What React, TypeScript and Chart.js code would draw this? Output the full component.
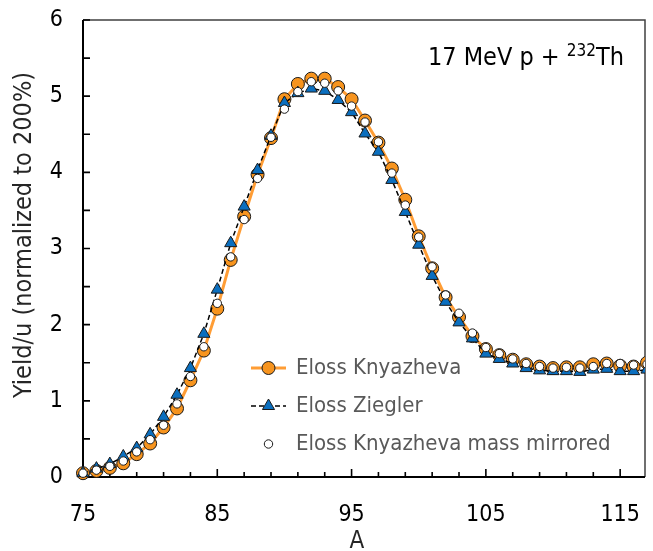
import React, { useEffect, useRef } from 'react';
import { Chart, registerables } from 'chart.js';

Chart.register(...registerables);

// ---------- data ----------
const massNumbers = [
  75, 76, 77, 78, 79, 80, 81, 82, 83, 84, 85, 86, 87, 88, 89, 90, 91, 92, 93, 94, 95, 96,
  97, 98, 99, 100, 101, 102, 103, 104, 105, 106, 107, 108, 109, 110, 111, 112, 113, 114, 115, 116, 117,
];
const knyazheva = [
  0.05, 0.08, 0.12, 0.18, 0.30, 0.44, 0.65, 0.90, 1.27, 1.66, 2.21, 2.85, 3.42, 3.97, 4.45, 4.96, 5.16, 5.23, 5.23, 5.12, 4.96, 4.68,
  4.39, 4.05, 3.64, 3.16, 2.74, 2.36, 2.10, 1.85, 1.68, 1.60, 1.54, 1.48, 1.45, 1.43, 1.44, 1.44, 1.48, 1.49, 1.46, 1.45, 1.50,
];
const ziegler = [
  0.05, 0.11, 0.17, 0.27, 0.38, 0.56, 0.79, 1.08, 1.43, 1.88, 2.46, 3.07, 3.55, 4.03, 4.48, 4.91, 5.04, 5.10, 5.07, 4.95, 4.79, 4.51,
  4.27, 3.90, 3.48, 3.05, 2.64, 2.30, 2.03, 1.82, 1.62, 1.55, 1.49, 1.43, 1.40, 1.39, 1.39, 1.38, 1.41, 1.42, 1.39, 1.39, 1.41,
];
const mirrored = [
  0.05, 0.09, 0.14, 0.21, 0.33, 0.49, 0.68, 0.96, 1.32, 1.71, 2.28, 2.89, 3.38, 3.92, 4.46, 4.83, 5.06, 5.19, 5.17, 5.07, 4.87, 4.66,
  4.40, 3.99, 3.57, 3.15, 2.76, 2.39, 2.15, 1.89, 1.70, 1.62, 1.55, 1.49, 1.45, 1.43, 1.44, 1.43, 1.45, 1.49, 1.49, 1.47, 1.48,
];
const seriesLabels = ['Eloss Knyazheva', 'Eloss Ziegler', 'Eloss Knyazheva mass mirrored'];
const xMajorTicks = [75, 85, 95, 105, 115];
const yTickLabels = [0, 1, 2, 3, 4, 5, 6];
const X_MIN = 75;
const X_MAX = 116.85;
const X_MINOR_STEP = 2;
const Y_MINOR_STEP = 0.5;
const xTitle = 'A';
const yTitle = 'Yield/u (normalized to 200%)';
const annotationMain = '17 MeV p + ';
const annotationSup = '232';
const annotationEnd = 'Th';

// ---------- styles ----------
const FONT = "'DejaVu Sans Condensed', 'Liberation Sans', sans-serif";
const ORANGE_LINE = '#FF9D35';
const ORANGE_FILL = '#F7941E';
const BLUE_FILL = '#0B6FBF';
const OUTLINE = '#1A1A1A';
const LEGEND_TEXT = '#595959';

const toPoints = (ys: number[]) => massNumbers.map((a, i) => ({ x: a, y: ys[i] }));

function drawMarker(ctx: CanvasRenderingContext2D, style: string, x: number, y: number, r: number, fill: string) {
  ctx.beginPath();
  if (style === 'triangle') {
    for (let k = 0; k < 3; k++) {
      const ang = (k * 2 * Math.PI) / 3;
      const px = x + Math.sin(ang) * r;
      const py = y - Math.cos(ang) * r;
      if (k === 0) ctx.moveTo(px, py);
      else ctx.lineTo(px, py);
    }
    ctx.closePath();
  } else {
    ctx.arc(x, y, r, 0, Math.PI * 2);
  }
  ctx.fillStyle = fill;
  ctx.fill();
  ctx.lineWidth = 1;
  ctx.strokeStyle = OUTLINE;
  ctx.stroke();
}

const decorPlugin = {
  id: 'decor',
  beforeDatasetsDraw(chart: any) {
    const { ctx, chartArea: a, scales } = chart;
    const x = scales.x;
    const y = scales.y;
    ctx.save();
    // top / right frame
    ctx.strokeStyle = '#404040';
    ctx.lineWidth = 1.5;
    ctx.beginPath();
    ctx.moveTo(a.left, a.top);
    ctx.lineTo(a.right, a.top);
    ctx.lineTo(a.right, a.bottom);
    ctx.stroke();
    // axes
    ctx.strokeStyle = '#000';
    ctx.lineWidth = 2;
    ctx.beginPath();
    ctx.moveTo(a.left, a.top);
    ctx.lineTo(a.left, a.bottom);
    ctx.lineTo(a.right, a.bottom);
    ctx.stroke();
    // inside tick marks
    ctx.lineWidth = 1.6;
    ctx.beginPath();
    y.ticks.forEach((t: any) => {
      const py = y.getPixelForValue(t.value);
      ctx.moveTo(a.left, py);
      ctx.lineTo(a.left + 7, py);
    });
    x.ticks.forEach((t: any) => {
      const px = x.getPixelForValue(t.value);
      const len = xMajorTicks.includes(t.value) ? 8 : 5;
      ctx.moveTo(px, a.bottom);
      ctx.lineTo(px, a.bottom - len);
    });
    ctx.stroke();
    ctx.restore();
  },
  afterDraw(chart: any) {
    const { ctx } = chart;
    ctx.save();
    // legend
    const rows = [368, 406, 444];
    chart.data.datasets.forEach((ds: any, i: number) => {
      const yy = rows[i];
      if (ds.showLine !== false) {
        ctx.save();
        ctx.strokeStyle = ds.borderColor;
        ctx.lineWidth = ds.borderWidth;
        ctx.setLineDash(ds.borderDash || []);
        ctx.beginPath();
        ctx.moveTo(251, yy);
        ctx.lineTo(286, yy);
        ctx.stroke();
        ctx.restore();
      }
      drawMarker(ctx, ds.pointStyle || 'circle', 268.5, yy, ds.pointRadius, ds.pointBackgroundColor);
      ctx.fillStyle = LEGEND_TEXT;
      ctx.font = `22px ${FONT}`;
      ctx.textAlign = 'left';
      ctx.textBaseline = 'middle';
      ctx.fillText(seriesLabels[i], 296, yy);
    });
    // annotation
    ctx.fillStyle = '#000';
    ctx.textBaseline = 'alphabetic';
    ctx.textAlign = 'left';
    const big = `25px ${FONT}`;
    const small = `17px ${FONT}`;
    ctx.font = big;
    const w1 = ctx.measureText(annotationMain).width;
    const w3 = ctx.measureText(annotationEnd).width;
    ctx.font = small;
    const w2 = ctx.measureText(annotationSup).width;
    const right = 624;
    let sx = right - (w1 + w2 + w3);
    ctx.font = big;
    ctx.fillText(annotationMain, sx, 65);
    sx += w1;
    ctx.font = small;
    ctx.fillText(annotationSup, sx, 56);
    sx += w2;
    ctx.font = big;
    ctx.fillText(annotationEnd, sx, 65);
    // axis titles
    ctx.fillStyle = '#262626';
    ctx.font = `24px ${FONT}`;
    ctx.textAlign = 'center';
    ctx.textBaseline = 'middle';
    ctx.fillText(xTitle, 357, 542);
    ctx.font = `25px ${FONT}`;
    ctx.save();
    ctx.translate(24, 235);
    ctx.rotate(-Math.PI / 2);
    ctx.fillText(yTitle, 0, 0);
    ctx.restore();
    ctx.restore();
  },
};

export default function App() {
  const canvasRef = useRef<HTMLCanvasElement | null>(null);

  useEffect(() => {
    if (!canvasRef.current) return;
    Chart.defaults.font.family = FONT;
    const xMinor: number[] = [];
    for (let v = X_MIN; v <= xMajorTicks[xMajorTicks.length - 1]; v += X_MINOR_STEP) xMinor.push(v);

    const clip = { left: 12, top: 12, right: 0, bottom: 12 };
    const chart = new Chart(canvasRef.current, {
      type: 'line',
      data: {
        datasets: [
          {
            label: seriesLabels[0],
            data: toPoints(knyazheva),
            borderColor: ORANGE_LINE,
            borderWidth: 3,
            pointStyle: 'circle',
            pointRadius: 6.5,
            pointBackgroundColor: ORANGE_FILL,
            pointBorderColor: OUTLINE,
            pointBorderWidth: 1,
            order: 3,
            clip,
          },
          {
            label: seriesLabels[1],
            data: toPoints(ziegler),
            borderColor: '#000000',
            borderWidth: 1.5,
            borderDash: [5, 3],
            pointStyle: 'triangle',
            pointRadius: 7,
            pointBackgroundColor: BLUE_FILL,
            pointBorderColor: OUTLINE,
            pointBorderWidth: 1,
            order: 2,
            clip,
          },
          {
            label: seriesLabels[2],
            data: toPoints(mirrored),
            showLine: false,
            borderColor: OUTLINE,
            pointStyle: 'circle',
            pointRadius: 4.2,
            pointBackgroundColor: '#FFFFFF',
            pointBorderColor: OUTLINE,
            pointBorderWidth: 1,
            order: 1,
            clip,
          },
        ] as any,
      },
      options: {
        animation: false,
        responsive: false,
        devicePixelRatio: 1,
        layout: { padding: { top: 20, right: 1, left: 0, bottom: 0 } },
        plugins: { legend: { display: false }, tooltip: { enabled: false }, title: { display: false } },
        scales: {
          x: {
            type: 'linear',
            min: X_MIN,
            max: X_MAX,
            grid: { display: false, drawTicks: false },
            border: { display: false },
            afterBuildTicks: (s: any) => {
              s.ticks = xMinor.map((v) => ({ value: v }));
            },
            afterFit: (s: any) => {
              s.height = 74;
              s.paddingLeft = 0;
              s.paddingRight = 0;
            },
            ticks: {
              autoSkip: false,
              maxRotation: 0,
              minRotation: 0,
              padding: 24,
              color: '#000',
              font: { size: 23, family: FONT },
              callback: (v: any) => (xMajorTicks.includes(Number(v)) ? String(v) : ''),
            },
          },
          y: {
            type: 'linear',
            min: yTickLabels[0],
            max: yTickLabels[yTickLabels.length - 1],
            grid: { display: false, drawTicks: false },
            border: { display: false },
            afterFit: (s: any) => {
              s.width = 83;
              s.paddingTop = 0;
              s.paddingBottom = 0;
            },
            ticks: {
              stepSize: Y_MINOR_STEP,
              padding: 20,
              color: '#000',
              font: { size: 23, family: FONT },
              callback: (v: any) => (yTickLabels.includes(Number(v)) ? String(v) : ''),
            },
          },
        },
      } as any,
      plugins: [decorPlugin],
    });
    return () => chart.destroy();
  }, []);

  return (
    <div style={{ position: 'fixed', left: 0, top: 0, width: 653, height: 551, background: '#fff' }}>
      <canvas ref={canvasRef} width={653} height={551} style={{ width: 653, height: 551, display: 'block' }} />
    </div>
  );
}
